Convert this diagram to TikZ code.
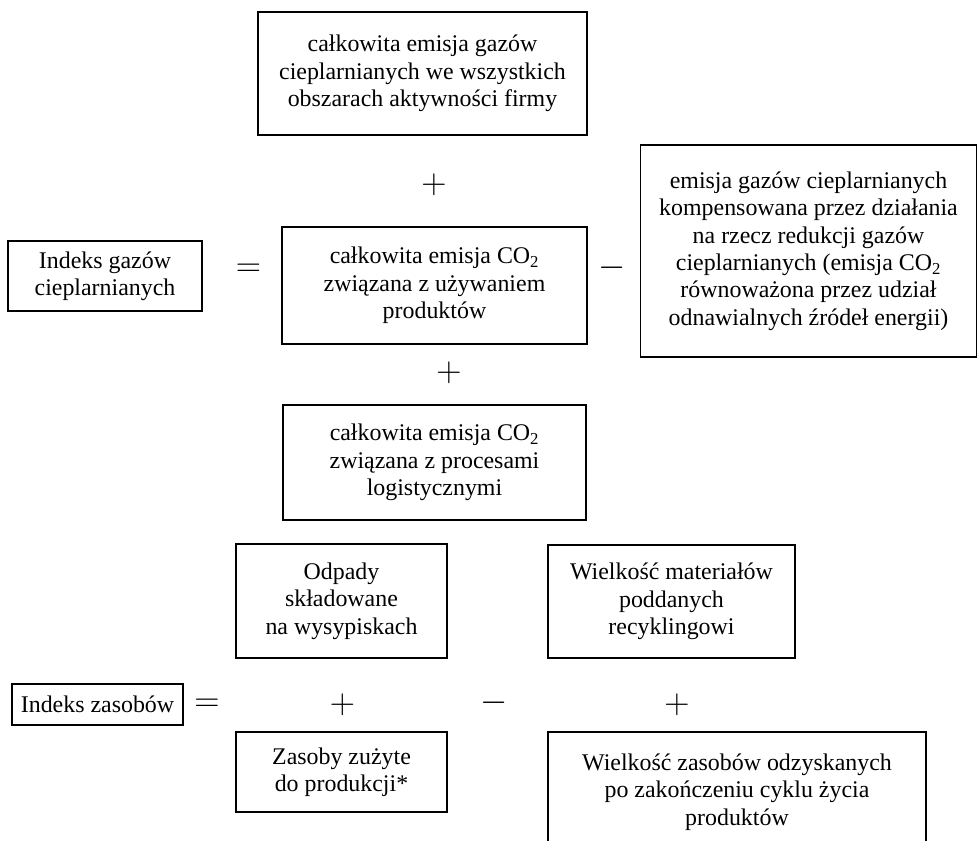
\documentclass[tikz,border=0pt]{standalone}
\usepackage{fontspec}
\setmainfont{Liberation Serif}

\begin{document}
\begin{tikzpicture}[
    box/.style={draw, line width=1pt, align=center, inner sep=2pt,
        font=\fontsize{17}{19.5}\selectfont},
    op/.style={inner sep=0pt, font=\fontsize{24.88}{26}\selectfont}
]
    \useasboundingbox (0, 0) rectangle (24.45, -21.025);
    \clip (0, 0) rectangle (24.45, -21.025);

    % GREENHOUSE GAS INDEX
    \node (ghg_index) at (2.625, -6.9) [box, minimum width=4.85cm, minimum height=1.75cm] {Indeks gazów\\cieplarnianych};
    \node (eq_ghg) at (6.2125, -6.75) [op] {$=$};

    \node (total_ghg) at (10.5625, -1.8375) [box, minimum width=8.225cm, minimum height=3.075cm] {całkowita emisja gazów\\cieplarnianych we wszystkich\\obszarach aktywności firmy};
    \node (plus_top) at (10.85, -4.625) [op] {$+$};
    \node (use_co2) at (10.8625, -7.1375) [box, minimum width=7.625cm, minimum height=2.925cm] {całkowita emisja CO\textsubscript{2}\\związana z używaniem\\produktów};
    \node (plus_mid) at (11.225, -9.325) [op] {$+$};
    \node (logistics) at (10.8625, -11.5625) [box, minimum width=7.575cm, minimum height=2.875cm] {całkowita emisja CO\textsubscript{2}\\związana z procesami\\logistycznymi};

    \node (minus_ghg) at (15.3, -6.7) [op] {$-$};
    \node (offset) at (20.2125, -6.275) [box, minimum width=8.4cm, minimum height=5.3cm] {emisja gazów cieplarnianych\\kompensowana przez działania\\na rzecz redukcji gazów\\cieplarnianych (emisja CO\textsubscript{2}\\równoważona przez udział\\odnawialnych źródeł energii)};

    % RESOURCE INDEX
    \node (res_index) at (2.4375, -17.6125) [box, minimum width=4.275cm, minimum height=1.025cm] {Indeks zasobów};
    \node (eq_res) at (5.175, -17.625) [op] {$=$};

    \node (waste) at (8.5375, -15.025) [box, minimum width=5.275cm, minimum height=2.85cm] {Odpady\\składowane\\na wysypiskach};
    \node (plus_res1) at (8.5625, -17.625) [op] {$+$};
    \node (used) at (8.5375, -19.3) [box, minimum width=5.275cm, minimum height=2cm] {Zasoby zużyte\\do produkcji*};

    \node (minus_res) at (12.35, -17.575) [op] {$-$};

    \node (recycled) at (16.7875, -15.0375) [box, minimum width=6.175cm, minimum height=2.825cm] {Wielkość materiałów\\poddanych\\recyklingowi};
    \node (plus_res2) at (16.925, -17.625) [op] {$+$};
    \node (recovered) at (18.425, -19.8) [box, minimum width=9.45cm, minimum height=3cm] {Wielkość zasobów odzyskanych\\po zakończeniu cyklu życia\\produktów};
\end{tikzpicture}
\end{document}
